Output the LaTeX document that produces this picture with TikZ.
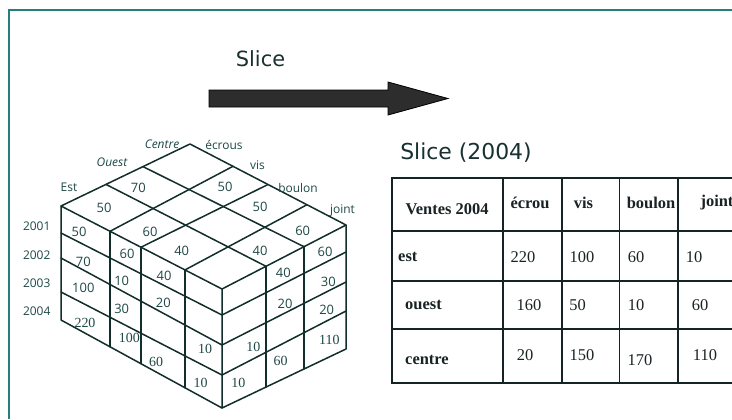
\documentclass[tikz,border=0pt]{standalone}
\usepackage{fontspec}
\setmainfont{Liberation Serif}
\newfontfamily\handfont{Open Sans}
\newfontfamily\headfont{DejaVu Sans}
\definecolor{ink}{RGB}{30,72,70}
\definecolor{headink}{RGB}{25,48,48}
\definecolor{cubeline}{RGB}{18,46,42}
\definecolor{framecol}{RGB}{40,125,125}
\definecolor{tabline}{RGB}{20,36,36}
\definecolor{tabink}{RGB}{25,35,35}
\definecolor{arrowfill}{RGB}{45,45,45}
\begin{document}
\begin{tikzpicture}[x=1bp,y=-1bp,
  cubeedge/.style={draw=cubeline,line width=1.5bp,line join=round,line cap=round},
  hnum/.style={font=\handfont\fontsize{13}{14}\selectfont,text=ink,inner sep=0pt},
  snum/.style={font=\fontsize{14}{15}\selectfont,text=ink,inner sep=0pt},
  axlab/.style={font=\handfont\fontsize{12}{13}\selectfont,text=ink,inner sep=0pt},
  axlabit/.style={font=\handfont\itshape\fontsize{12}{13}\selectfont,text=ink,inner sep=0pt},
  headtxt/.style={font=\headfont\fontsize{21}{24}\selectfont,text=headink,inner sep=0pt},
  tabtxt/.style={font=\fontsize{16.5}{18}\selectfont,text=tabink,inner sep=0pt},
  tabhead/.style={font=\bfseries\fontsize{16.5}{18}\selectfont,text=tabink,inner sep=0pt},
  tabrule/.style={draw=tabline,line width=1.6bp}
]
\useasboundingbox (0,0) rectangle (732,419);
\clip (0,0) rectangle (732,419);
\fill[white] (0,0) rectangle (732,419);

% frame
\coordinate (ftl) at (9,10);
\coordinate (ftr) at (732,10);
\coordinate (fbl) at (9,419);
\draw[framecol,line width=1.6bp] (ftr) -- (ftl) -- (fbl);

% title and arrow
\node[headtxt,anchor=base] (slicetitle) at (260.5,66.7) {Slice};
\draw[fill=arrowfill,draw=black,line width=0.8bp,line join=miter]
  (209,90) -- (388,90) -- (388,82) -- (448,98.5) -- (388,115) -- (388,107) -- (209,107) -- cycle;
\node[headtxt,font=\headfont\fontsize{22}{25}\selectfont,anchor=base] (slicehead) at (466,159.3) {Slice (2004)};

% cube coordinates
\coordinate (A) at (61,206);
\coordinate (a1) at (106,184.4);
\coordinate (a2) at (143,166.6);
\coordinate (B) at (190,144);
\coordinate (b1) at (233,166.3);
\coordinate (b2) at (268,184.5);
\coordinate (b3) at (307,204.7);
\coordinate (J) at (346,225);
\coordinate (j2) at (304,246.7);
\coordinate (j1) at (266,266.3);
\coordinate (F) at (222,289);
\coordinate (f3) at (185,269.9);
\coordinate (f2) at (141,247.2);
\coordinate (f1) at (110,231.3);
% left face rows
\coordinate (L1) at (61,233); \coordinate (L2) at (61,258);
\coordinate (L3) at (61,292); \coordinate (L4) at (61,320);
\coordinate (F1) at (222,315); \coordinate (F2) at (222,345);
\coordinate (F3) at (222,375); \coordinate (F4) at (222,408);
\coordinate (f1b) at (110,346.8); \coordinate (f2b) at (141,363.7);
\coordinate (f3b) at (185,387.8);
% right face rows
\coordinate (R1) at (346,252); \coordinate (R2) at (346,282);
\coordinate (R3) at (346,311); \coordinate (R4) at (346,349);
\coordinate (j1b) at (266,387); \coordinate (j2b) at (304,369);

% top face
\draw[cubeedge] (A) -- (B) -- (J) -- (F) -- cycle;
\draw[cubeedge] (a1) -- (j1) (a2) -- (j2);
\draw[cubeedge] (f1) -- (b1) (f2) -- (b2) (f3) -- (b3);
% left face
\draw[cubeedge] (A) -- (L4) -- (F4) -- (F);
\draw[cubeedge] (L1) -- (F1) (L2) -- (F2) (L3) -- (F3);
\draw[cubeedge] (f1) -- (f1b) (f2) -- (f2b) (f3) -- (f3b);
% right face
\draw[cubeedge] (F4) -- (R4) -- (J);
\draw[cubeedge] (F1) -- (R1) (F2) -- (R2) (F3) -- (R3);
\draw[cubeedge] (j1) -- (j1b) (j2) -- (j2b);

% axis labels
\node[axlab] (lEst) at (69,187) {Est};
\node[axlabit] (lOuest) at (112,162) {Ouest};
\node[axlabit] (lCentre) at (162,144) {Centre};
\node[axlab] (lecrous) at (224,145) {écrous};
\node[axlab] (lvis) at (257.5,165) {vis};
\node[axlab] (lboulon) at (298,188) {boulon};
\node[axlab] (ljoint) at (342.5,211) {joint};
\node[axlab] (y1) at (36.7,226.7) {2001};
\node[axlab] (y2) at (36.7,255) {2002};
\node[axlab] (y3) at (36.7,283.3) {2003};
\node[axlab] (y4) at (36.7,311.7) {2004};

% top face values
\node[hnum] (t1) at (138.3,188.3) {70};
\node[hnum] (t2) at (104,208.3) {50};
\node[hnum] (t3) at (150,231.5) {60};
\node[hnum] (t4) at (181.7,250.5) {40};
\node[hnum] (t5) at (225,187.3) {50};
\node[hnum] (t6) at (260,207.3) {50};
\node[hnum] (t7) at (302.7,231.3) {60};
\node[hnum] (t8) at (260,250.5) {40};
% left face values
\node[hnum] (l1) at (79,231.5) {50};
\node[hnum] (l2) at (83.3,261.7) {70};
\node[hnum] (l3) at (83.3,288.3) {100};
\node[hnum] (l4) at (127,254.3) {60};
\node[hnum] (l5) at (121.7,280.7) {10};
\node[hnum] (l6) at (121.7,309.3) {30};
\node[hnum] (l7) at (164,276) {40};
\node[hnum] (l8) at (163.3,303.3) {20};
% right face values
\node[hnum] (r1) at (325,252.3) {60};
\node[hnum] (r2) at (283.3,273.3) {40};
\node[hnum] (r3) at (328.3,281.7) {30};
\node[hnum] (r4) at (285,304) {20};
\node[hnum] (r5) at (326.7,310) {20};
% serif values
\node[snum] (s1) at (85,322.7) {220};
\node[snum] (s2) at (129.3,338.3) {100};
\node[snum] (s3) at (156,361.7) {60};
\node[snum] (s4) at (205,349.3) {10};
\node[snum] (s5) at (253.3,347.3) {10};
\node[snum] (s6) at (329.3,340) {110};
\node[snum] (s7) at (280.7,361) {60};
\node[snum] (s8) at (200.7,383.3) {10};
\node[snum] (s9) at (238.3,383.3) {10};

% table
\draw[tabrule] (392,178) rectangle (770,383);
\foreach \cx in {503,562,619.5,678} \draw[tabrule] (\cx,178) -- (\cx,383);
\foreach \ry in {231,281,329} \draw[tabrule] (392,\ry) -- (770,\ry);

\node[tabhead] (hv) at (447,209) {Ventes 2004};
\node[tabhead] (hecrou) at (530,203) {écrou};
\node[tabhead] (hvis) at (583.5,203) {vis};
\node[tabhead] (hboulon) at (651,203) {boulon};
\node[tabhead] (hjoint) at (717,203) {joint};

\node[tabhead,anchor=west] (rest) at (398,257) {est};
\node[tabhead,anchor=west] (rouest) at (405,305) {ouest};
\node[tabhead,anchor=west] (rcentre) at (405,360) {centre};

\node[tabtxt] (v11) at (523,257) {220};
\node[tabtxt] (v12) at (582,257) {100};
\node[tabtxt] (v13) at (636,257) {60};
\node[tabtxt] (v14) at (694,257) {10};
\node[tabtxt] (v21) at (529,305) {160};
\node[tabtxt] (v22) at (577.5,305) {50};
\node[tabtxt] (v23) at (636,305) {10};
\node[tabtxt] (v24) at (700,305) {60};
\node[tabtxt] (v31) at (525,355) {20};
\node[tabtxt] (v32) at (582,355) {150};
\node[tabtxt] (v33) at (640,360) {170};
\node[tabtxt] (v34) at (705,355) {110};
\end{tikzpicture}
\end{document}
